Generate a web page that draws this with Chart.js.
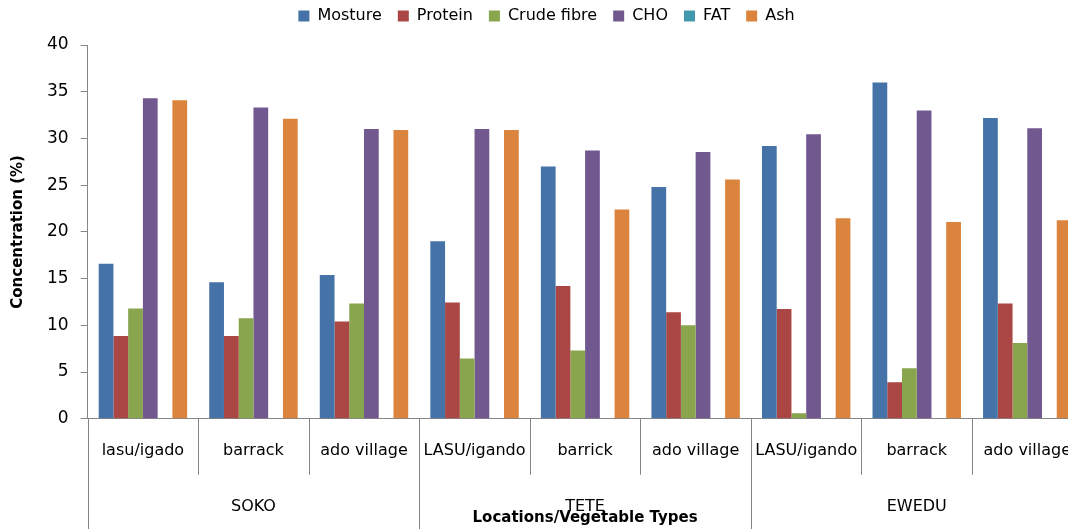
<!DOCTYPE html>
<html>
<head>
<meta charset="utf-8">
<script src="https://cdn.jsdelivr.net/npm/chart.js@4"></script>
<style>
  html, body { margin: 0; padding: 0; background: #fff; overflow: hidden; }
  #wrap { position: absolute; left: 0; top: 0; width: 1093px; height: 529px; }
</style>
</head>
<body>
<div id="wrap"><canvas id="c"></canvas></div>
<script>
// ---- data ----
const categories = ["lasu/igado", "barrack", "ado village",
                    "LASU/igando", "barrick", "ado village",
                    "LASU/igando", "barrack", "ado village"];
const groups = ["SOKO", "TETE", "EWEDU"];
const mosture     = [16.6, 14.6, 15.4, 19.0, 27.0, 24.8, 29.2, 36.0, 32.2];
const protein     = [8.85, 8.85, 10.4, 12.45, 14.2, 11.4, 11.75, 3.9, 12.35];
const crudeFibre  = [11.8, 10.75, 12.35, 6.45, 7.3, 10.0, 0.6, 5.4, 8.1];
const cho         = [34.3, 33.3, 31.0, 31.0, 28.7, 28.55, 30.45, 33.0, 31.1];
const fat         = [0, 0, 0, 0, 0, 0, 0, 0, 0];
const ash         = [34.1, 32.1, 30.9, 30.9, 22.4, 25.6, 21.45, 21.05, 21.25];
const seriesNames = ["Mosture", "Protein", "Crude fibre", "CHO", "FAT", "Ash"];
const yTicks = [0, 5, 10, 15, 20, 25, 30, 35, 40];

const colors = ["#4572A7", "#AA4643", "#89A54E", "#71588F", "#4198AF", "#DB843D"];
const seriesData = [mosture, protein, crudeFibre, cho, fat, ash];

const FONT = "'DejaVu Sans', sans-serif";
const AXIS = "#868686";

const legendSpace = {
  id: 'legendSpace',
  beforeInit(chart) {
    const origFit = chart.legend.fit;
    chart.legend.fit = function () {
      origFit.bind(chart.legend)();
      this.height += 11;
    };
  }
};

const groupPlugin = {
  id: 'groupAxis',
  afterDraw(chart) {
    const xs = chart.scales.x;
    const ctx = chart.ctx;
    const n = categories.length;
    const step = xs.getPixelForValue(1) - xs.getPixelForValue(0);
    const top = xs.top;
    ctx.save();
    ctx.strokeStyle = AXIS;
    ctx.lineWidth = 1;
    for (let i = 0; i <= n; i++) {
      const x = Math.round((i < n ? xs.getPixelForValue(i) - step / 2 : xs.getPixelForValue(n - 1) + step / 2)) + 0.5;
      const bottom = (i % 3 === 0) ? chart.height : top + 56;
      ctx.beginPath();
      ctx.moveTo(x, top);
      ctx.lineTo(x, bottom);
      ctx.stroke();
    }
    ctx.fillStyle = "#000";
    ctx.font = "16px " + FONT;
    ctx.textAlign = "center";
    ctx.textBaseline = "middle";
    groups.forEach((g, k) => {
      const cx = (xs.getPixelForValue(3 * k) + xs.getPixelForValue(3 * k + 2)) / 2;
      ctx.fillText(g, cx, 507);
    });
    ctx.restore();
  }
};

new Chart(document.getElementById('c'), {
  type: 'bar',
  data: {
    labels: categories,
    datasets: seriesNames.map((name, i) => ({
      label: name,
      data: seriesData[i],
      backgroundColor: colors[i],
      borderWidth: 0,
      categoryPercentage: 0.8,
      barPercentage: 1.0
    }))
  },
  options: {
    responsive: true,
    maintainAspectRatio: false,
    animation: false,
    devicePixelRatio: 1,
    layout: { padding: { left: 0, right: 0, top: -8, bottom: 0 } },
    plugins: {
      tooltip: { enabled: false },
      legend: {
        position: 'top',
        labels: {
          boxWidth: 11, boxHeight: 11, padding: 16,
          color: "#000",
          font: { family: FONT, size: 16 }
        }
      }
    },
    scales: {
      x: {
        grid: { display: false, drawTicks: false },
        border: { display: true, color: AXIS },
        ticks: {
          color: "#000", padding: 22, maxRotation: 0, autoSkip: false,
          font: { family: FONT, size: 16 }
        },
        title: {
          display: true, text: "Locations/Vegetable Types", color: "#000",
          font: { family: FONT, size: 15, weight: 'bold' },
          padding: { top: 27, bottom: 2 }
        }
      },
      y: {
        min: 0, max: 40,
        afterBuildTicks(scale) { scale.ticks = yTicks.map(v => ({ value: v })); },
        grid: { drawOnChartArea: false, drawTicks: true, tickLength: 7, color: AXIS },
        border: { display: true, color: AXIS },
        ticks: {
          color: "#000", padding: 12,
          font: { family: FONT, size: 17 }
        },
        title: {
          display: true, text: "Concentration (%)", color: "#000",
          font: { family: FONT, size: 15, weight: 'bold' },
          padding: { top: 9, bottom: 8 }
        }
      }
    }
  },
  plugins: [legendSpace, groupPlugin]
});
</script>
</body>
</html>
